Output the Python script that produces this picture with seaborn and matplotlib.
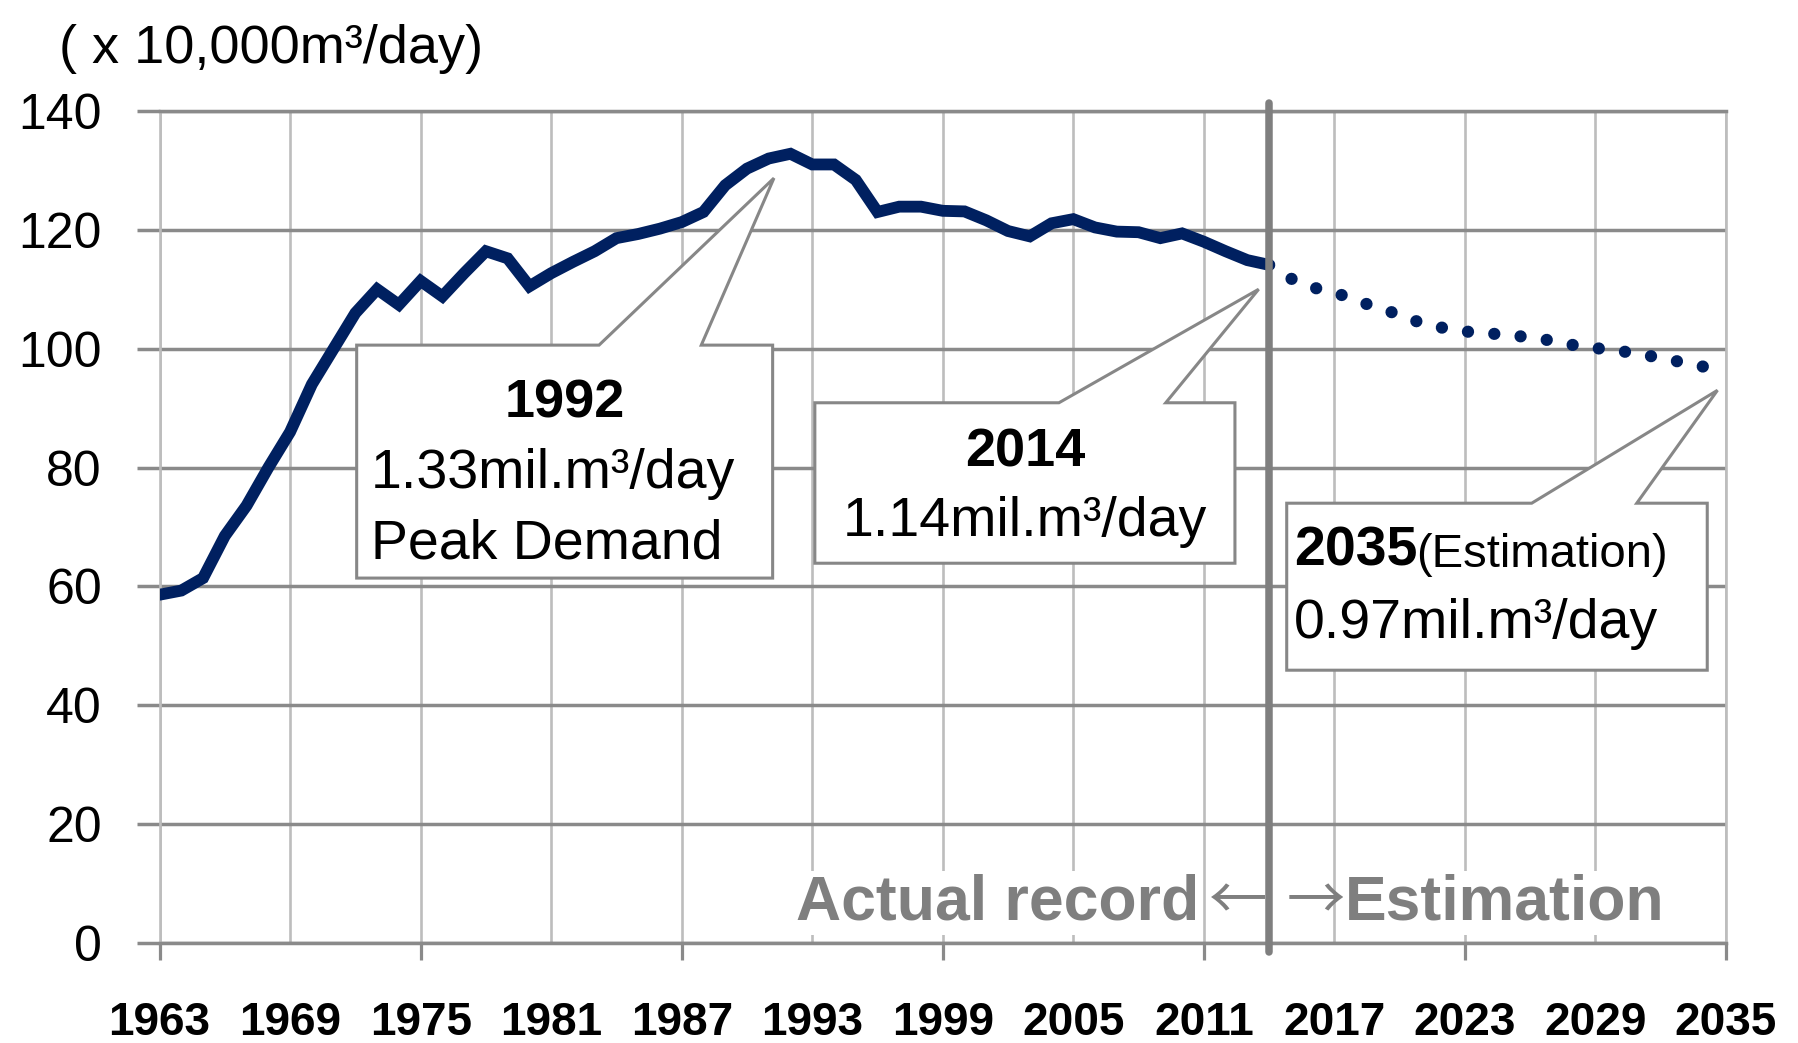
"""
Water demand record (1963-2014) and estimation up to 2035.
"""

import matplotlib
matplotlib.use('Agg')
import matplotlib.pyplot as plt
from matplotlib.patches import Polygon
import pandas as pd
import seaborn as sns

# ── Data ──────────────────────────────────────────────────────────────────────
actual_years = list(range(1963, 2015))
actual_demand = [58.6, 59.3, 61.4, 68.5, 73.6, 80.0, 86.0, 94.0, 100.0, 106.0,
                 110.0, 107.4, 111.4, 108.8, 112.7, 116.4, 115.2, 110.5, 112.7, 114.6,
                 116.4, 118.6, 119.3, 120.2, 121.3, 123.0, 127.5, 130.3, 132.0, 132.8,
                 131.0, 131.0, 128.4, 123.0, 123.9, 123.9, 123.2, 123.1, 121.6, 119.8,
                 118.9, 121.1, 121.8, 120.4, 119.7, 119.6, 118.6, 119.4, 118.0, 116.4,
                 114.9, 114.1]

est_years = list(range(2014, 2036))
est_demand = [114.1, 111.8, 110.3, 109.5, 108.1, 106.9, 105.7, 104.3, 103.5, 102.9,
              102.6, 102.3, 101.9, 101.35, 100.6, 100.1, 99.7, 99.1, 98.45, 97.7,
              96.95, 96.5]

x_ticks = list(range(1963, 2036, 6))
x_marks = list(range(1963, 2036, 12))
y_ticks = list(range(0, 141, 20))

title_text = '( x 10,000m³/day)'
peak_year, last_year, target_year = 1992, 2014, 2035
peak_text = ['1.33mil.m³/day', 'Peak Demand']
last_text = '1.14mil.m³/day'
target_text = '0.97mil.m³/day'

# ── Style ─────────────────────────────────────────────────────────────────────
NAVY = '#002060'
HGRID = '#8a8a8a'
VGRID = '#bdbdbd'
BOX_EC = '#878787'
GREY_TXT = '#7f7f7f'
ARROW_FONT = ['Noto Sans CJK JP', 'DejaVu Sans']

sns.set_theme(style='white')
plt.rcParams['font.family'] = ['Liberation Sans', 'DejaVu Sans', 'Noto Sans CJK JP']
plt.rcParams['text.color'] = 'black'

df_act = pd.DataFrame({'year': actual_years, 'demand': actual_demand})
df_est = pd.DataFrame({'year': est_years, 'demand': est_demand})

fig = plt.figure(figsize=(17.99, 10.43), dpi=100)
ax = fig.add_axes([0.0887, 0.0959, 0.8707, 0.7977])

sns.lineplot(data=df_est, x='year', y='demand', ax=ax, color=NAVY, lw=8.8,
             linestyle=(0, (0.01, 2.15)), dash_capstyle='round', zorder=4)
sns.lineplot(data=df_act, x='year', y='demand', ax=ax, color=NAVY, lw=8.5,
             solid_joinstyle='miter', zorder=4)

ax.set_xlim(1963, 2035)
ax.set_ylim(0, 140)
ax.set_xlabel('')
ax.set_ylabel('')
ax.set_axisbelow(True)

# ── Axes / grid ───────────────────────────────────────────────────────────────
ax.set_xticks(x_ticks)
ax.set_xticklabels([str(y) for y in x_ticks], fontweight='bold')
ax.set_xticks(x_marks, minor=True)
ax.xaxis.remove_overlapping_locs = False
ax.set_yticks(y_ticks)

ax.tick_params(axis='x', which='major', length=0, pad=42, labelsize=33, labelcolor='black')
ax.tick_params(axis='x', which='minor', length=12, width=2.3, color=HGRID, bottom=True)
ax.tick_params(axis='y', length=16.5, width=2.5, color=HGRID, pad=25, labelsize=36,
               labelcolor='black', left=True)

ax.xaxis.grid(True, which='major', color=VGRID, lw=1.9)
ax.yaxis.grid(True, color=HGRID, lw=2.5)
for side in ['top', 'bottom']:
    ax.spines[side].set_color(HGRID)
    ax.spines[side].set_linewidth(2.5)
for side in ['left', 'right']:
    ax.spines[side].set_color(VGRID)
    ax.spines[side].set_linewidth(1.9)

# separator actual / estimation
ax.axvline(actual_years[-1], ymin=-0.011, ymax=1.01, color='#7f7f7f', lw=5.4,
           clip_on=False, zorder=5)

# ── Callouts ──────────────────────────────────────────────────────────────────
def callout(x0, x1, y0, y1, b0, b1, tip):
    pts = [(x0, y0), (x0, y1), (b0, y1), tip, (b1, y1), (x1, y1), (x1, y0)]
    ax.add_patch(Polygon(pts, closed=True, fc='white', ec=BOX_EC, lw=2.2,
                         joinstyle='miter', zorder=3))


peak_val = actual_demand[actual_years.index(peak_year)]
last_val = actual_demand[actual_years.index(last_year)]
target_val = est_demand[est_years.index(target_year)]

callout(1972.06, 1991.18, 61.4, 100.6, 1983.2, 1987.9, (peak_year - 0.76, peak_val - 4.1))
callout(1993.12, 2012.43, 63.9, 90.9, 2004.34, 2009.25, (last_year - 0.48, last_val - 4.1))
callout(2014.81, 2034.14, 45.9, 74.0, 2026.07, 2030.9, (target_year - 0.39, target_val - 3.5))

ax.text(1981.62, 88.4, str(peak_year), ha='center', va='baseline', fontsize=39,
        fontweight='bold', zorder=6)
ax.text(1972.7, 76.5, peak_text[0], ha='left', va='baseline', fontsize=40, zorder=6)
ax.text(1972.7, 64.7, peak_text[1], ha='left', va='baseline', fontsize=40, zorder=6)

ax.text(2002.78, 80.2, str(last_year), ha='center', va='baseline', fontsize=39,
        fontweight='bold', zorder=6)
ax.text(2002.78, 68.4, last_text, ha='center', va='baseline', fontsize=40, zorder=6)

t35 = ax.text(2015.15, 63.6, str(target_year), ha='left', va='baseline', fontsize=40,
              fontweight='bold', zorder=6)
ax.annotate('(Estimation)', xy=(1, 0), xycoords=t35, xytext=(-1, 0),
            textcoords='offset points', ha='left', va='bottom', fontsize=34, zorder=6)
ax.text(2015.15, 51.3, target_text, ha='left', va='baseline', fontsize=40, zorder=6)

# ── Actual record / Estimation labels ─────────────────────────────────────────
ax.text(2010.78, 3.9, 'Actual record', ha='right', va='baseline', fontsize=45,
        fontweight='bold', color=GREY_TXT, zorder=4,
        bbox=dict(fc='white', ec='none', pad=2))
ax.text(2012.6, 6.7, '←', ha='center', va='center', fontsize=42,
        color=GREY_TXT, family=ARROW_FONT, zorder=4)
ax.text(2016.15, 6.7, '→', ha='center', va='center', fontsize=42,
        color=GREY_TXT, family=ARROW_FONT, zorder=4)
ax.text(2017.5, 3.9, 'Estimation', ha='left', va='baseline', fontsize=45,
        fontweight='bold', color=GREY_TXT, zorder=4,
        bbox=dict(fc='white', ec='none', pad=2))

# unit label
fig.text(0.033, 0.9396, title_text, ha='left', va='baseline', fontsize=39)

fig.savefig('out.png', dpi=100)
plt.close(fig)
